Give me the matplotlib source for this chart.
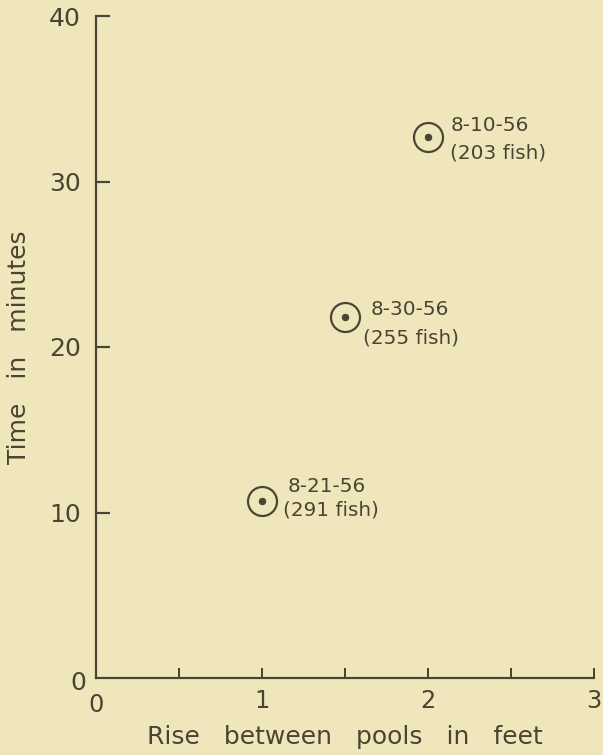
import matplotlib
matplotlib.use('Agg')
import matplotlib.pyplot as plt

# 数据
rise_ft = [2.0, 1.5, 1.0]
time_min = [32.7, 21.8, 10.7]
dates = ['8-10-56', '8-30-56', '8-21-56']
fish = ['(203 fish)', '(255 fish)', '(291 fish)']

x_ticks = [0.5, 1, 1.5, 2, 2.5, 3]
x_labels = ['', '1', '', '2', '', '3']
y_ticks = [10, 20, 30, 40]
y_labels = ['10', '20', '30', '40']

# 样式
bg = '#efe7bb'
ink = '#4a4432'
plt.rcParams['font.family'] = ['DejaVu Sans']

fig = plt.figure(figsize=(603 / 72, 755 / 72), dpi=72, facecolor=bg)
ax = fig.add_axes([96 / 603, 77 / 755, 498 / 603, 662 / 755])
ax.set_facecolor(bg)

ax.set_xlim(0, 3)
ax.set_ylim(0, 40)
for side in ['top', 'right']:
    ax.spines[side].set_visible(False)
for side in ['left', 'bottom']:
    ax.spines[side].set_color(ink)
    ax.spines[side].set_linewidth(2.2)

ax.set_xticks(x_ticks)
ax.set_xticklabels(x_labels)
ax.set_yticks(y_ticks)
ax.set_yticklabels(y_labels)
ax.tick_params(axis='x', direction='in', length=10, width=2, color=ink,
               labelcolor=ink, labelsize=24, pad=11)
ax.tick_params(axis='y', direction='in', length=14, width=2.2, color=ink,
               labelcolor=ink, labelsize=25, pad=15)

# 两个 0 分开画
ax.text(-0.06, -0.3, '0', ha='right', va='center', fontsize=25, color=ink)
ax.text(0, -0.9, '0', ha='center', va='top', fontsize=24, color=ink)

# 点：空心圆 + 中心点
ax.plot(rise_ft, time_min, 'o', ms=29, mfc='none', mec=ink, mew=2.2,
        clip_on=False)
ax.plot(rise_ft, time_min, 'o', ms=6.5, color=ink, clip_on=False)

# 标注偏移（像素）
line1_off = [(23, 11), (26, 8), (26, 14)]
line2_off = [(22, -16), (18, -21), (21, -9)]
for i in range(len(rise_ft)):
    ax.annotate(dates[i], (rise_ft[i], time_min[i]), xytext=line1_off[i],
                textcoords='offset points', ha='left', va='center',
                fontsize=20, color=ink)
    ax.annotate(fish[i], (rise_ft[i], time_min[i]), xytext=line2_off[i],
                textcoords='offset points', ha='left', va='center',
                fontsize=20, color=ink)

ax.set_xlabel('Rise   between   pools   in   feet', fontsize=25, color=ink,
              labelpad=12)
ax.set_ylabel('Time   in   minutes', fontsize=25, color=ink, labelpad=18)

fig.savefig('out.png', dpi=72, facecolor=bg)
